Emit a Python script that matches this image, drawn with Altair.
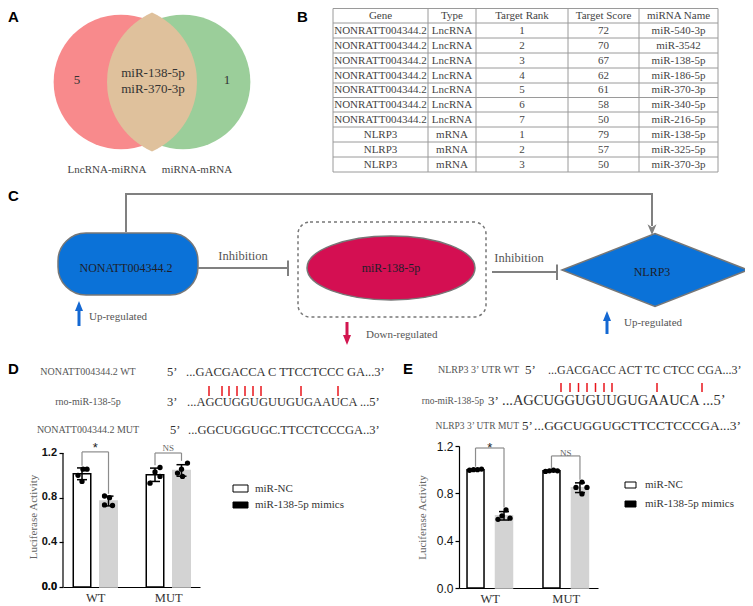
import math
import numpy as np
import pandas as pd
import altair as alt

# ======================= DATA =======================
panel_letters = ["A", "B", "C", "D", "E"]

venn_sets = ["LncRNA-miRNA", "miRNA-mRNA"]
venn_unique_counts = ["5", "1"]
venn_shared = ["miR-138-5p", "miR-370-3p"]

table_header = ["Gene", "Type", "Target Rank", "Target Score", "miRNA Name"]
table_gene = ["NONRATT004344.2"] * 7 + ["NLRP3"] * 3
table_type = ["LncRNA"] * 7 + ["mRNA"] * 3
table_rank = [1, 2, 3, 4, 5, 6, 7, 1, 2, 3]
table_score = [72, 70, 67, 62, 61, 58, 50, 79, 57, 50]
table_mirna = ["miR-540-3p", "miR-3542", "miR-138-5p", "miR-186-5p", "miR-370-3p",
               "miR-340-5p", "miR-216-5p", "miR-138-5p", "miR-325-5p", "miR-370-3p"]

path_nodes = ["NONATT004344.2", "miR-138-5p", "NLRP3"]
path_edges = ["Inhibition", "Inhibition"]
path_regulation = ["Up-regulated", "Down-regulated", "Up-regulated"]

d_seq_labels = ["NONATT004344.2 WT", "rno-miR-138-5p", "NONATT004344.2 MUT"]
d_seq_ends = ["5\u2019", "3\u2019", "5\u2019"]
d_seq = ["...GACGACCA C TTCCTCCC GA...3\u2019",
         "...AGCUGGUGUUGUGAAUCA ...5\u2019",
         "...GGCUGGUGC.TTCCTCCCGA..3\u2019"]
e_seq_labels = ["NLRP3 3\u2019 UTR WT", "rno-miR-138-5p", "NLRP3 3\u2019 UTR MUT"]
e_seq_ends = ["5\u2019", "3\u2019", "5\u2019"]
e_seq = ["...GACGACC ACT TC CTCC CGA...3\u2019",
         "...AGCUGGUGUUGUGAAUCA ...5\u2019",
         "...GGCUGGUGCTTCCTCCCGA...3\u2019"]

groups = ["WT", "MUT"]
series = ["miR-NC", "miR-138-5p mimics"]
# replicate values [group][series]
d_values = [[[1.00, 1.055, 1.055, 0.945], [0.815, 0.80, 0.735, 0.73]],
            [[0.93, 1.03, 1.07, 0.99], [1.02, 1.055, 1.11, 0.99]]]
e_values = [[[0.995, 1.0, 1.0, 1.005], [0.58, 0.61, 0.66, 0.59]],
            [[0.985, 0.99, 0.995, 0.99], [0.85, 0.895, 0.85, 0.795]]]
sig_labels = ["*", "NS"]
y_ticks = [0.0, 0.4, 0.8, 1.2]
y_title = "Luciferase Activity"

# ======================= LAYOUT / STYLE =======================
SERIF = "Liberation Serif"
SANS = "Liberation Sans"
X0, X1, Y0, Y1 = 8, 745, 8, 446
TOP_W, TOP_H = X1 - X0, Y1 - Y0
XS = alt.Scale(domain=[X0, X1], nice=False, zero=False)
YS = alt.Scale(domain=[Y0, Y1], nice=False, zero=False, reverse=True)


def xy(ch, xf="x", yf="y", **extra):
    return ch.encode(x=alt.X(f"{xf}:Q", scale=XS, axis=None),
                     y=alt.Y(f"{yf}:Q", scale=YS, axis=None), **extra)


def text_layer(xs, ys, texts, **style):
    df = pd.DataFrame({"x": xs, "y": ys, "t": texts})
    return xy(alt.Chart(df).mark_text(clip=True, **style), text="t:N")


def rule_layer(segs, **style):
    df = pd.DataFrame(segs, columns=["x", "y", "x2", "y2"])
    return xy(alt.Chart(df).mark_rule(clip=True, **style), x2="x2:Q", y2="y2:Q")


def rect_layer(box, **style):
    df = pd.DataFrame([box], columns=["x", "y", "x2", "y2"])
    return xy(alt.Chart(df).mark_rect(clip=True, **style), x2="x2:Q", y2="y2:Q")


def symbol_layer(pts, **style):
    df = pd.DataFrame(pts, columns=["x", "y"])
    return xy(alt.Chart(df).mark_point(clip=True, opacity=1, **style))


layers = []

# ---- panel letters
letter_x = [8, 297, 8, 8, 403]
letter_y = [16.5, 16.5, 196, 369, 369]
layers.append(text_layer(letter_x, letter_y, panel_letters, font=SANS, fontWeight="bold",
                         fontSize=15, align="left", baseline="middle", color="black"))

# ---- panel A: Venn
VENN_R = 76
venn_cx = [121, 183]
venn_cy = 82
venn_colors = ["#F88A8C", "#9BCE9A"]
lens_color = "#DFC19C"
venn_df = pd.DataFrame({"x": venn_cx, "y": [venn_cy] * 2, "set": venn_sets})
layers.append(xy(alt.Chart(venn_df).mark_circle(size=math.pi * VENN_R ** 2, opacity=1, clip=True),
                 color=alt.Color("set:N", scale=alt.Scale(domain=venn_sets, range=venn_colors), legend=None)))
lx = np.linspace(venn_cx[1] - VENN_R, venn_cx[0] + VENN_R, 181)
h1 = np.sqrt(np.clip(VENN_R ** 2 - (lx - venn_cx[0]) ** 2, 0, None))
h2 = np.sqrt(np.clip(VENN_R ** 2 - (lx - venn_cx[1]) ** 2, 0, None))
hh = np.minimum(h1, h2)
lens_df = pd.DataFrame({"x": lx, "y": venn_cy - hh, "y2": venn_cy + hh})
layers.append(xy(alt.Chart(lens_df).mark_area(color=lens_color, opacity=1, clip=True), y2="y2:Q"))
layers.append(text_layer([77, 227], [80, 80], venn_unique_counts, font=SERIF, fontSize=13,
                         color="#333", baseline="middle"))
layers.append(text_layer([153, 153], [73, 89], venn_shared, font=SERIF, fontSize=13,
                         color="#333", baseline="middle"))
layers.append(text_layer([107, 197], [170, 170], venn_sets, font=SERIF, fontSize=11,
                         color="#444", baseline="middle"))

# ---- panel B: table
col_edges = [333, 428, 476, 568, 639, 718]
row_edges = [8.5, 23, 38, 53, 68, 83, 97.5, 112, 127, 142, 157, 172]
cols = [table_gene, table_type, [str(v) for v in table_rank],
        [str(v) for v in table_score], table_mirna]
cx = [(col_edges[i] + col_edges[i + 1]) / 2 for i in range(5)]
ry = [(row_edges[j] + row_edges[j + 1]) / 2 for j in range(11)]
cell_x, cell_y, cell_t = [], [], []
for i in range(5):
    cell_x.append(cx[i]); cell_y.append(ry[0]); cell_t.append(table_header[i])
    for j, v in enumerate(cols[i]):
        cell_x.append(cx[i]); cell_y.append(ry[j + 1]); cell_t.append(v)
grid = [(col_edges[0], y, col_edges[-1], y) for y in row_edges] + \
       [(x, row_edges[0], x, row_edges[-1]) for x in col_edges]
layers.append(rule_layer(grid, color="#9a9a9a", strokeWidth=1))
layers.append(text_layer(cell_x, cell_y, cell_t, font=SERIF, fontSize=11, color="#444",
                         baseline="middle"))

# ---- panel C: pathway diagram
GRAY = "#808080"
BLUE = "#0B72D8"
CRIMSON = "#D40F52"
layers.append(rule_layer([(126, 232, 126, 194), (125, 194, 653, 194), (652, 194, 652, 226)],
                         color=GRAY, strokeWidth=2))
layers.append(symbol_layer([(652, 229)], shape="M0,1L-0.75,-0.8L0,-0.3L0.75,-0.8Z", size=144,
                           filled=True, fill=GRAY, strokeWidth=0))
layers.append(rect_layer((58, 233, 198, 295), cornerRadius=28, fill=BLUE, stroke="#777",
                         strokeWidth=1.5))
layers.append(rect_layer((298, 222, 486, 317), cornerRadius=12, fillOpacity=0, stroke="#777",
                         strokeWidth=1.5, strokeDash=[3, 3]))
layers.append(symbol_layer([(391, 268)], shape="M-1,0A1,0.381 0 1,0 1,0A1,0.381 0 1,0 -1,0Z",
                           size=168 ** 2, filled=True, fill=CRIMSON, stroke="#777", strokeWidth=1.5))
layers.append(symbol_layer([(655, 270)], shape="M-1,0L0,-0.391L1,0L0,0.391Z",
                           size=186 ** 2, filled=True, fill=BLUE, stroke="#777", strokeWidth=1.5))
layers.append(rule_layer([(198, 268, 288, 268), (288, 260.5, 288, 276),
                          (492, 272, 557, 272), (557, 264.5, 557, 280)],
                         color=GRAY, strokeWidth=2))
layers.append(text_layer([126, 391, 652], [268, 268, 272], path_nodes, font=SERIF, fontSize=12,
                         color="#1e1e2a", baseline="middle"))
layers.append(text_layer([243, 519], [256, 258], path_edges, font=SERIF, fontSize=12.5,
                         color="#555", baseline="middle"))
layers.append(text_layer([89, 366, 624], [317, 335, 323], path_regulation, font=SERIF,
                         fontSize=11, color="#555", align="left", baseline="middle"))
ARROW_BLUE = "#1468D2"
ARROW_RED = "#D2154F"
layers.append(rule_layer([(79, 309, 79, 326), (607, 319, 607, 334)], color=ARROW_BLUE, strokeWidth=3))
layers.append(symbol_layer([(79, 306), (607, 316)], shape="M0,-1L0.8,1L-0.8,1Z", size=100,
                           filled=True, fill=ARROW_BLUE, strokeWidth=0))
layers.append(rule_layer([(347, 322, 347, 337)], color=ARROW_RED, strokeWidth=3))
layers.append(symbol_layer([(347, 340)], shape="M0,1L0.8,-1L-0.8,-1Z", size=100,
                           filled=True, fill=ARROW_RED, strokeWidth=0))

# ---- panel D sequences
d_rows_y = [372, 402, 430]
layers.append(text_layer([88] * 3, d_rows_y, d_seq_labels, font=SERIF, fontSize=10, color="#555",
                         baseline="middle"))
layers.append(text_layer([167, 167, 170], d_rows_y, d_seq_ends, font=SERIF, fontSize=12.5,
                         color="#333", align="left", baseline="middle"))
layers.append(text_layer([186, 187, 188], d_rows_y, d_seq, font=SERIF, fontSize=12.5,
                         color="#333", align="left", baseline="middle"))
d_tick_x = [209, 222, 229, 237, 245, 253, 261, 301, 338]
layers.append(rule_layer([(x, 386, x, 396) for x in d_tick_x], color="#E8141B", strokeWidth=1.5))

# ---- panel E sequences
e_rows_y = [370, 401, 426]
layers.append(text_layer([519], [e_rows_y[0]], [e_seq_labels[0]], font=SERIF, fontSize=10,
                         color="#555", align="right", baseline="middle"))
layers.append(text_layer([484, 519], [e_rows_y[1], e_rows_y[2]], e_seq_labels[1:], font=SERIF,
                         fontSize=9.5, color="#555", align="right", baseline="middle"))
layers.append(text_layer([525, 488, 522], e_rows_y, e_seq_ends, font=SERIF, fontSize=13,
                         color="#333", align="left", baseline="middle"))
layers.append(text_layer([548], [e_rows_y[0]], [e_seq[0]], font=SERIF, fontSize=12,
                         color="#333", align="left", baseline="middle"))
layers.append(text_layer([502], [e_rows_y[1]], [e_seq[1]], font=SERIF, fontSize=14.5,
                         color="#333", align="left", baseline="middle"))
layers.append(text_layer([534], [e_rows_y[2]], [e_seq[2]], font=SERIF, fontSize=13.5,
                         color="#333", align="left", baseline="middle"))
e_tick_x = [561, 570, 578.5, 587, 595.5, 604, 612, 657, 702]
layers.append(rule_layer([(x, 383, x, 392) for x in e_tick_x], color="#E8141B", strokeWidth=1.5))

top = alt.layer(*layers).properties(width=TOP_W, height=TOP_H)

# horizontal placement of row 2 (plot-area left edges, relative to chart origin)
D_LEFT = 55
D_W = 137
GAP = 259
E_LEFT = D_LEFT + D_W + GAP


# ======================= BAR PANELS =======================
def bar_panel(values, cfg):
    u = cfg["width"] / (cfg["xdom"][1] - cfg["xdom"][0])
    recs = []
    for gi, g in enumerate(groups):
        for si, s in enumerate(series):
            center = gi * 2 + (2 * si - 1) * cfg["sub"]
            for ri, v in enumerate(values[gi][si]):
                recs.append(dict(group=g, series=s, gi=gi, si=si, value=v, center=center,
                                 xp=center + cfg["jit"][gi][si][ri] / u))
    pts = pd.DataFrame(recs)
    summ = pts.groupby(["group", "series", "gi", "si", "center"], as_index=False).agg(
        mean=("value", "mean"), sd=("value", "std"), vmax=("value", "max"))
    summ["b0"] = summ["center"] - cfg["half"] / u
    summ["b1"] = summ["center"] + cfg["half"] / u
    summ["lo"] = summ["mean"] - summ["sd"]
    summ["hi"] = summ["mean"] + summ["sd"]
    summ["c0"] = summ["center"] - 5 / u
    summ["c1"] = summ["center"] + 5 / u
    summ["base"] = 0.0

    manual = cfg["manual_labels"]
    xsc = alt.Scale(domain=cfg["xdom"], nice=False, zero=False)
    ysc = alt.Scale(domain=cfg["ydom"], nice=False, zero=False)
    xax = alt.Axis(values=[0, 2], labelExpr=f"datum.value < 1 ? '{groups[0]}' : '{groups[1]}'",
                   domain=True, domainColor="black", domainWidth=1.2, ticks=False, grid=False,
                   labelFont=SERIF, labelFontSize=12.5, labelColor="#333", labelPadding=4,
                   labelOverlap=False, labelFlush=False, title=None)
    yax = alt.Axis(values=y_ticks, format=".1f", domain=not manual, domainColor="black",
                   domainWidth=1.2, grid=False, ticks=True, tickSize=4, tickColor="black",
                   tickWidth=1.2, labels=not manual, labelFont=SANS,
                   labelFontWeight="bold" if cfg["bold"] else "normal",
                   labelFontSize=cfg["labelsize"], labelColor="#111", labelPadding=2,
                   labelOverlap=False, labelFlush=False, labelBound=False,
                   title=y_title, titleFont=SERIF, titleFontSize=11, titleFontWeight="normal",
                   titleColor="#666", titlePadding=cfg["titlepad"])

    def X(f):
        return alt.X(f"{f}:Q", scale=xsc, axis=xax)

    def Y(f):
        return alt.Y(f"{f}:Q", scale=ysc, axis=yax)

    L = []
    L.append(alt.Chart(summ).mark_bar(strokeWidth=1.5).encode(
        x=X("b0"), x2="b1:Q", y=Y("mean"), y2="base:Q",
        fill=alt.Fill("series:N", scale=alt.Scale(domain=series, range=["#ffffff", "#D3D3D3"]), legend=None),
        stroke=alt.Stroke("series:N", scale=alt.Scale(domain=series, range=["#000000", "#D3D3D3"]), legend=None)))
    L.append(alt.Chart(summ).mark_rule(color="black", strokeWidth=1.5).encode(
        x=X("center"), y=Y("lo"), y2="hi:Q"))
    L.append(alt.Chart(summ).mark_rule(color="black", strokeWidth=1.5).encode(
        x=X("c0"), x2="c1:Q", y=Y("hi")))
    L.append(alt.Chart(summ).mark_rule(color="black", strokeWidth=1.5).encode(
        x=X("c0"), x2="c1:Q", y=Y("lo")))
    L.append(alt.Chart(pts).mark_circle(size=28, color="black", opacity=1).encode(
        x=X("xp"), y=Y("value")))

    # significance brackets
    segs, sig = [], []
    for gi, g in enumerate(groups):
        a = summ[(summ.gi == gi) & (summ.si == 0)].iloc[0]
        b = summ[(summ.gi == gi) & (summ.si == 1)].iloc[0]
        topy = cfg["bracket"][gi]
        la = max(a.vmax, a.hi) + 0.02
        lb = max(b.vmax, b.hi) + 0.02
        segs += [(a.center, topy, b.center, topy), (a.center, la, a.center, topy),
                 (b.center, lb, b.center, topy)]
        sig.append(dict(x=(a.center + b.center) / 2, y=topy, t=sig_labels[gi]))
    sdf = pd.DataFrame(segs, columns=["x", "y", "x2", "y2"])
    L.append(alt.Chart(sdf).mark_rule(color="#8c8c8c", strokeWidth=1.2).encode(
        x=X("x"), x2="x2:Q", y=Y("y"), y2="y2:Q"))
    sig_df = pd.DataFrame(sig)
    L.append(alt.Chart(sig_df.iloc[[0]]).mark_text(font=SANS, fontSize=13, color="#222",
                                                    baseline="alphabetic", dy=cfg["stardy"]).encode(
        x=X("x"), y=Y("y"), text="t:N"))
    L.append(alt.Chart(sig_df.iloc[[1]]).mark_text(font=SERIF, fontSize=9, color="#666",
                                                    baseline="alphabetic", dy=cfg["nsdy"]).encode(
        x=X("x"), y=Y("y"), text="t:N"))

    # legend (drawn beside the plot)
    lg = cfg["legend"]
    for i, s in enumerate(series):
        y0, y1 = lg["box_y"][i]
        L.append(alt.Chart(pd.DataFrame({"s": [s]})).mark_rect(
            fill="#ffffff" if i == 0 else "#000000", stroke="#000000", strokeWidth=1).encode(
            x=alt.value(lg["box_x"][0]), x2=alt.value(lg["box_x"][1]),
            y=alt.value(y0), y2=alt.value(y1)))
        L.append(alt.Chart(pd.DataFrame({"s": [s]})).mark_text(
            font=SERIF, fontSize=11, color="#333", align="left", baseline="middle").encode(
            x=alt.value(lg["text_x"]), y=alt.value((y0 + y1) / 2), text="s:N"))

    if manual:
        # axis line from 0 to the top tick, and tick labels placed with the y scale
        ddf = pd.DataFrame({"a": [y_ticks[0]], "b": [y_ticks[-1]]})
        L.append(alt.Chart(ddf).mark_rule(color="black", strokeWidth=1.2).encode(
            x=alt.value(0), y=Y("a"), y2="b:Q"))
        tdf = pd.DataFrame({"v": y_ticks, "t": [f"{v:.1f}" for v in y_ticks]})
        L.append(alt.Chart(tdf).mark_text(font=SANS, fontWeight="bold", fontSize=cfg["labelsize"],
                                          color="#111", align="right", baseline="middle",
                                          dy=-0.5).encode(
            x=alt.value(-6), y=Y("v"), text="t:N"))

    extra = cfg.get("extra_label")
    if extra:
        # the neighbouring panel's baseline tick label, drawn last so nothing covers it
        L.append(alt.Chart(pd.DataFrame({"t": [extra["text"]]})).mark_text(
            font=SANS, fontWeight="bold", fontSize=11, color="#111", align="right",
            baseline="middle", dy=-0.5).encode(
            x=alt.value(extra["x"]), y=alt.value(extra["y"]), text="t:N"))
    return alt.layer(*L).properties(width=cfg["width"], height=cfg["height"])


D_cfg = dict(width=D_W, height=141, xdom=[-0.884, 2.870], ydom=[0, 1.2 * 141 / 134],
             sub=0.363, half=8.75, bold=True, labelsize=11, titlepad=20, manual_labels=True,
             jit=[[[-4, 1, 5, 0], [-4, 1, -4, 4]], [[-5, 0, 5, 5], [-4, 0, 6, 1]]],
             bracket=[1.21, 1.20], stardy=0, nsdy=-2,
             legend=dict(box_x=(170, 185), box_y=[(39, 46), (56, 62)], text_x=192))
E_cfg = dict(width=139, height=142, xdom=[-0.81, 2.85], ydom=[0, 1.2],
             sub=0.375, half=8.5, bold=False, labelsize=12, titlepad=9, manual_labels=False,
             jit=[[[-6, -2, 2, 6], [-6, -2, 2, 6]], [[-6, -2, 2, 6], [-4, 2, 7, 2]]],
             bracket=[1.183, 1.116], stardy=4, nsdy=0,
             legend=dict(box_x=(166, 177), box_y=[(36, 42), (55, 61)], text_x=186),
             extra_label=dict(text=f"{y_ticks[0]:.1f}", x=(D_LEFT - 6) - E_LEFT,
                              y=D_cfg["height"]))

d_chart = bar_panel(d_values, D_cfg)
e_chart = bar_panel(e_values, E_cfg)


def spacer(w):
    return alt.Chart(pd.DataFrame({"v": [0]})).mark_point(opacity=0).properties(width=w, height=10)


row2 = alt.hconcat(spacer(D_LEFT), d_chart, spacer(GAP), e_chart, spacing=0, bounds="flush")

chart = alt.vconcat(top, row2, spacing=0, bounds="flush").properties(
    padding=0, background="white"
).configure_view(stroke=None)

chart.save("out.html", embed_options={"renderer": "svg", "actions": False})
